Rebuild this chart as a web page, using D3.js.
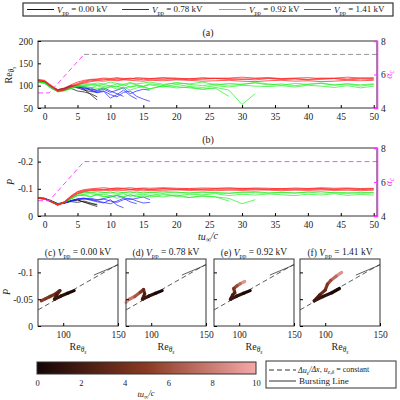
<!DOCTYPE html><html><head><meta charset="utf-8"><script src="https://cdn.jsdelivr.net/npm/d3@7"></script>
<style>body{margin:0;background:#fff}text{font-family:"Liberation Serif",serif;fill:#222}</style></head><body>
<svg id="c" width="400" height="400"></svg>
<script>
const T=[-1,0,1,2,3,4,5,6,7,8,9,10,11,12,13,14,15,16,18,20,22,24,26,28,30,32,34,36,38,40,42,44,46,48,50];
const groupNames=["0.00","0.78","0.92","1.41"];
const groupColors=["#111","#1f1fff","#22ee22","#ff1a1a"];
const reBlack=[[110,108,97,90,93,99,100,92,80,68],[109,106,95,89,90,94,88,86,82,75],[111,108,98,91,94,100,95,90,87,85]];
const reBlue=[[110,108,97,89,92,98,100,94,90,86,88,80,75,85,88,76,70,65],[109,107,96,88,91,96,97,92,95,88,92,85,90,95,82,88,92,90],[111,108,98,90,94,99,95,98,90,84,87,72,80,90,78,70],[110,107,97,90,93,97,99,96,92,90,95,88,82,76]];
const reGreen=[[108,106,95,86,88,93,98,100,101,102,98,100,97,103,96,100,98,102,97,103,98,96,100,97,101,99,98,100,97,101,99,96,100,95,99],
[109,107,96,88,90,95,100,102,104,101,103,99,104,100,105,102,99,104,101,107,103,100,104,101,103,106,102,104,100,103,105,101,104,102,104],
[108,105,94,87,89,94,99,97,95,100,94,98,92,97,90,95,98,93,100,98,95,92,96,90,58,82],
[109,106,95,87,90,96,101,99,96,94,92,97,99,94,98,100,96,93,99,95,97,92,94,76],
[110,107,96,88,91,97,102,105,103,106,104,108,105,103,107,104,106,108,103,106,104,108,102,105,103,107,104,101,105,103,106,102,104,99,103]];
const reRed=[[112,110,100,90,93,100,105,110,113,114,115,114,116,115,117,114,116,115,117,114,116,115,117,116,114,116,117,115,116,114,117,116,115,117,116],
[113,111,99,88,91,98,103,108,111,112,113,115,113,114,115,116,113,115,114,116,113,115,116,114,115,113,116,114,115,113,114,116,113,115,114],
[111,109,98,87,90,97,102,106,109,111,110,112,111,113,112,111,110,112,111,113,112,110,111,112,110,109,111,112,110,111,109,110,112,111,112],
[114,112,101,91,95,102,108,112,114,115,117,116,118,116,115,118,117,116,118,117,115,118,116,117,119,117,118,116,117,118,116,117,119,117,118]];
const pBlack=[[-.066,-.064,-.055,-.045,-.048,-.055,-.058,-.052,-.042,-.035],[-.065,-.063,-.054,-.044,-.047,-.053,-.05,-.055,-.048,-.04],[-.067,-.065,-.056,-.046,-.049,-.056,-.06,-.05,-.045,-.043]];
const pBlue=[[-.066,-.064,-.055,-.044,-.048,-.056,-.062,-.065,-.06,-.058,-.062,-.055,-.05,-.06,-.065,-.055,-.048,-.05],
[-.065,-.063,-.054,-.043,-.047,-.055,-.06,-.062,-.065,-.06,-.064,-.07,-.075,-.068,-.06,-.065,-.07,-.06],
[-.067,-.065,-.056,-.045,-.049,-.057,-.063,-.066,-.061,-.055,-.05,-.045,-.055,-.065,-.052,-.045],
[-.066,-.064,-.055,-.044,-.048,-.056,-.062,-.064,-.058,-.052,-.048,-.06,-.04,-.03]];
const pGreen=[[-.066,-.063,-.053,-.042,-.05,-.062,-.075,-.08,-.082,-.078,-.08,-.075,-.078,-.082,-.072,-.078,-.08,-.076,-.082,-.074,-.08,-.078,-.082,-.075,-.08,-.077,-.081,-.078,-.075,-.08,-.077,-.082,-.076,-.079,-.077],
[-.065,-.062,-.052,-.041,-.05,-.065,-.08,-.085,-.087,-.084,-.086,-.088,-.083,-.087,-.085,-.089,-.084,-.087,-.085,-.088,-.084,-.087,-.085,-.083,-.087,-.086,-.084,-.087,-.085,-.088,-.084,-.087,-.086,-.084,-.086],
[-.066,-.063,-.053,-.042,-.05,-.063,-.076,-.078,-.072,-.077,-.07,-.075,-.065,-.072,-.078,-.07,-.075,-.07,-.078,-.072,-.068,-.075,-.07,-.065,-.045,-.06],
[-.066,-.063,-.053,-.042,-.05,-.063,-.076,-.075,-.07,-.08,-.072,-.07,-.076,-.07,-.078,-.073,-.068,-.075,-.07,-.078,-.068,-.072,-.07,-.055],
[-.067,-.064,-.054,-.043,-.052,-.067,-.082,-.088,-.086,-.09,-.087,-.084,-.089,-.086,-.09,-.085,-.088,-.086,-.091,-.087,-.085,-.089,-.086,-.084,-.088,-.09,-.085,-.087,-.084,-.088,-.09,-.085,-.083,-.087,-.085]];
const pRed=[[-.066,-.063,-.052,-.04,-.05,-.07,-.085,-.092,-.095,-.097,-.096,-.098,-.097,-.1,-.098,-.097,-.099,-.097,-.1,-.098,-.097,-.099,-.098,-.1,-.097,-.099,-.098,-.097,-.1,-.098,-.099,-.097,-.1,-.098,-.099],
[-.067,-.064,-.053,-.041,-.052,-.072,-.088,-.094,-.097,-.099,-.098,-.1,-.102,-.1,-.098,-.101,-.1,-.098,-.101,-.099,-.1,-.098,-.101,-.099,-.102,-.1,-.099,-.101,-.098,-.1,-.101,-.099,-.1,-.098,-.1],
[-.065,-.062,-.051,-.039,-.048,-.068,-.082,-.089,-.093,-.094,-.095,-.093,-.095,-.094,-.096,-.094,-.095,-.093,-.095,-.096,-.094,-.095,-.093,-.095,-.094,-.096,-.095,-.093,-.095,-.094,-.096,-.094,-.095,-.093,-.095],
[-.068,-.065,-.054,-.042,-.053,-.074,-.09,-.097,-.1,-.102,-.104,-.101,-.103,-.102,-.104,-.101,-.103,-.102,-.104,-.102,-.101,-.103,-.102,-.104,-.101,-.103,-.102,-.1,-.103,-.101,-.104,-.102,-.103,-.101,-.102]];
const alphaT=[-1,0.7,6,50.5], alphaV=[4.9,4.9,7.2,7.2];
const trajRe=[[110,104,98,92,94,97,93,88,84,80],[110,104,98,92,94,93,90,85,80,77],[110,104,98,92,94,96,95,98,101,105],[113,106,98,90,95,100,102,105,110,115]];
const trajP=[[-.066,-.061,-.056,-.05,-.058,-.066,-.06,-.055,-.051,-.047],[-.066,-.061,-.056,-.05,-.06,-.068,-.063,-.055,-.05,-.044],[-.066,-.061,-.056,-.05,-.058,-.062,-.07,-.075,-.079,-.083],[-.07,-.062,-.055,-.047,-.058,-.067,-.078,-.085,-.093,-.1]];
const trajT=[[0,0.7,1.4,2,2.6,3.2,3.8,4.3,4.8,5.3],[0,0.7,1.4,2,2.8,4,5.5,7,8.5,10],[0,0.7,1.4,2,2.6,3.5,5,6.5,8,10],[0,0.7,1.4,2,2.8,4,5,6.5,8,10]];
const refRe=[77,150], refP=[-.03,-.115];
const burstRe=[128,150], burstP=[-.095,-.114];
const cbTicks=[0,2,4,6,8,10];

const svg=d3.select("#c");
const font="Liberation Serif";

const lg=svg.append("g");
lg.append("rect").attr("x",23).attr("y",3).attr("width",370).attr("height",13).attr("fill","#fff").attr("stroke","#333").attr("stroke-width",1.2);
const lx=[27,122,219,304];
groupNames.forEach((n,i)=>{lg.append("line").attr("x1",lx[i]).attr("x2",lx[i]+27).attr("y1",9.5).attr("y2",9.5).attr("stroke",groupColors[i]).attr("stroke-width",1);
 const t=lg.append("text").attr("x",lx[i]+30).attr("y",13).attr("font-size",9);t.append("tspan").attr("font-style","italic").text("V");t.append("tspan").attr("font-size","0.72em").attr("dy","0.3em").text("pp");t.append("tspan").attr("dy","-0.3em").text(" = "+n+" kV");});

const x=d3.scaleLinear().domain([-1,50.5]).range([38,377]);
const groupsRe=[reBlack,reBlue,reGreen,reRed], groupsP=[pBlack,pBlue,pGreen,pRed];
function styleAxis(a,col){a.attr("font-family",font);a.selectAll("text").attr("font-family",font).attr("font-size",9.5).attr("fill",col||"#222");}
function panel(top,bot,y,ydata,ticks,fmt,title,alphaGrayAfter){
 const g=svg.append("g");
 const ya=d3.scaleLinear().domain([4,8]).range([bot,top]);
 const line=d3.line().x((d,i)=>x(T[i])).y(d=>y(d));
 ydata.forEach((grp,gi)=>grp.forEach(s=>g.append("path").attr("d",line(s)).attr("fill","none").attr("stroke",groupColors[gi]).attr("stroke-width",0.7)));
 const al=d3.line().x((d,i)=>x(alphaT[i])).y(d=>ya(d));
 if(alphaGrayAfter){g.append("path").attr("d",al(alphaV.slice(0,3))).attr("fill","none").attr("stroke","#ff33ff").attr("stroke-dasharray","5,3").attr("stroke-width",0.9);
  g.append("path").attr("d",d3.line().x((d,i)=>x(alphaT[i+2])).y(d=>ya(d))(alphaV.slice(2))).attr("fill","none").attr("stroke","#888").attr("stroke-dasharray","5,3").attr("stroke-width",0.9);}
 else g.append("path").attr("d",al(alphaV)).attr("fill","none").attr("stroke","#ff33ff").attr("stroke-dasharray","5,3").attr("stroke-width",0.9);
 g.append("rect").attr("x",38).attr("y",top).attr("width",339).attr("height",bot-top).attr("fill","none").attr("stroke","#333");
 g.append("g").attr("transform",`translate(0,${bot})`).call(d3.axisBottom(x).tickValues(d3.range(0,51,5)).tickSize(-3).tickPadding(5)).call(a=>{a.select(".domain").remove();styleAxis(a);});
 g.append("g").attr("transform","translate(38,0)").call(d3.axisLeft(y).tickValues(ticks).tickFormat(fmt).tickSize(-3).tickPadding(5)).call(a=>{a.select(".domain").remove();styleAxis(a);});
 g.append("g").attr("transform","translate(377,0)").call(d3.axisRight(ya).tickValues([4,6,8]).tickFormat(d3.format("d")).tickSize(-3).tickPadding(4)).call(a=>{a.select(".domain").attr("stroke","#ff33ff").attr("stroke-width",1.5);a.selectAll("line").attr("stroke","#ff33ff");styleAxis(a,"#ff33ff");});
 svg.append("text").attr("x",208).attr("y",top-5).attr("text-anchor","middle").attr("font-size",10).text(title);
 const at=svg.append("text").attr("transform",`translate(392,${(top+bot)/2}) rotate(-90)`).attr("text-anchor","middle").attr("font-size",10).style("fill","#ff33ff");
 at.append("tspan").attr("font-style","italic").style("fill","#ff33ff").text("α");at.append("tspan").attr("font-size","0.72em").attr("dy","0.3em").attr("font-style","italic").style("fill","#ff33ff").text("c");
}
const yRe=d3.scaleLinear().domain([50,200]).range([108,41]);
panel(41,108,yRe,groupsRe,[50,100,150,200],d3.format("d"),"(a)",true);
const yP=d3.scaleLinear().domain([0,-0.25]).range([216,148]);
panel(148,216,yP,groupsP,[0,-0.1,-0.2],d=>d===0?"0":String(d),"(b)",false);
{const t=svg.append("text").attr("transform","translate(12,75) rotate(-90)").attr("text-anchor","middle").attr("font-size",10);
 t.append("tspan").text("Re");t.append("tspan").attr("font-size","0.72em").attr("dy","0.3em").attr("font-style","italic").text("θ");t.append("tspan").attr("font-size","0.55em").attr("dy","0.3em").attr("font-style","italic").text("s");}
svg.append("text").attr("transform","translate(14,182) rotate(-90)").attr("text-anchor","middle").attr("font-size",10).attr("font-style","italic").text("P");
{const t=svg.append("text").attr("x",208).attr("y",240).attr("text-anchor","middle").attr("font-size",10).attr("font-style","italic");
 t.append("tspan").text("tu");t.append("tspan").attr("font-size","0.72em").attr("dy","0.3em").text("∞");t.append("tspan").attr("dy","-0.3em").text("/c");}

const color=d3.scaleLinear().domain([0,5,10]).range(["#140505","#8a3a22","#f5a9a9"]);
const px=[38,126,214,300], pw=80, ptop=259, pbot=326;
const yb=d3.scaleLinear().domain([0,-0.125]).range([pbot,ptop]);
const letters=["(c)","(d)","(e)","(f)"];
px.forEach((x0,k)=>{
 const xb=d3.scaleLinear().domain([77,150]).range([x0,x0+pw]);
 const g=svg.append("g");
 const rl=d3.line().x(d=>xb(d[0])).y(d=>yb(d[1]));
 g.append("path").attr("d",rl([[refRe[0],refP[0]],[refRe[1],refP[1]]])).attr("stroke","#333").attr("stroke-dasharray","5,3").attr("stroke-width",0.8);
 g.append("path").attr("d",rl([[burstRe[0],burstP[0]],[burstRe[1],burstP[1]]])).attr("stroke","#333").attr("stroke-width",0.8);
 for(let i=trajRe[k].length-2;i>=0;i--){
  g.append("line").attr("x1",xb(trajRe[k][i])).attr("y1",yb(trajP[k][i])).attr("x2",xb(trajRe[k][i+1])).attr("y2",yb(trajP[k][i+1])).attr("stroke",color((trajT[k][i]+trajT[k][i+1])/2)).attr("stroke-width",3.2).attr("stroke-linecap","round");}
 g.append("rect").attr("x",x0).attr("y",ptop).attr("width",pw).attr("height",pbot-ptop).attr("fill","none").attr("stroke","#333");
 g.append("g").attr("transform",`translate(0,${pbot})`).call(d3.axisBottom(xb).tickValues([100,150]).tickSize(-3).tickPadding(5)).call(a=>{a.select(".domain").remove();styleAxis(a);});
 if(k===0) g.append("g").attr("transform",`translate(${x0},0)`).call(d3.axisLeft(yb).tickValues([0,-0.05,-0.1]).tickFormat(d=>d===0?"0":String(d)).tickSize(-3).tickPadding(5)).call(a=>{a.select(".domain").remove();styleAxis(a);});
 else g.append("g").attr("transform",`translate(${x0},0)`).call(d3.axisLeft(yb).tickValues([0,-0.05,-0.1]).tickFormat("").tickSize(-3)).call(a=>a.select(".domain").remove());
 const t=svg.append("text").attr("x",x0+pw/2).attr("y",256).attr("text-anchor","middle").attr("font-size",9.5);
 t.append("tspan").text(letters[k]+"  ");t.append("tspan").attr("font-style","italic").text("V");t.append("tspan").attr("font-size","0.72em").attr("dy","0.3em").text("pp");t.append("tspan").attr("dy","-0.3em").text(" = "+groupNames[k]+" kV");
 const r=svg.append("text").attr("x",x0+pw/2).attr("y",350).attr("text-anchor","middle").attr("font-size",10);
 r.append("tspan").text("Re");r.append("tspan").attr("font-size","0.72em").attr("dy","0.3em").attr("font-style","italic").text("θ");r.append("tspan").attr("font-size","0.55em").attr("dy","0.3em").attr("font-style","italic").text("s");
});
svg.append("text").attr("transform","translate(10,292) rotate(-90)").attr("text-anchor","middle").attr("font-size",10).attr("font-style","italic").text("P");

const cb=d3.scaleLinear().domain([0,10]).range([37,256]);
const grad=svg.append("defs").append("linearGradient").attr("id","gr");
[0,2.5,5,7.5,10].forEach(v=>grad.append("stop").attr("offset",(v*10)+"%").attr("stop-color",color(v)));
svg.append("rect").attr("x",37).attr("y",362).attr("width",219).attr("height",12).attr("fill","url(#gr)").attr("stroke","#333");
svg.append("g").attr("transform","translate(0,374)").call(d3.axisBottom(cb).tickValues(cbTicks).tickSize(0).tickPadding(6)).call(a=>{a.select(".domain").remove();styleAxis(a);a.selectAll("text").attr("font-size",8.5);});
{const t=svg.append("text").attr("x",146).attr("y",397).attr("text-anchor","middle").attr("font-size",8.5).attr("font-style","italic");
 t.append("tspan").text("tu");t.append("tspan").attr("font-size","0.72em").attr("dy","0.3em").text("∞");t.append("tspan").attr("dy","-0.3em").text("/c");}
svg.append("rect").attr("x",266).attr("y",361).attr("width",130).attr("height",27).attr("fill","#fff").attr("stroke","#333");
svg.append("line").attr("x1",269).attr("x2",296).attr("y1",370).attr("y2",370).attr("stroke","#333").attr("stroke-dasharray","5,3");
svg.append("line").attr("x1",269).attr("x2",296).attr("y1",381).attr("y2",381).attr("stroke","#333");
{const t=svg.append("text").attr("x",298).attr("y",373).attr("font-size",8);
 t.append("tspan").attr("font-style","italic").text("Δu");t.append("tspan").attr("font-size","0.7em").attr("dy","0.3em").attr("font-style","italic").text("e");t.append("tspan").attr("dy","-0.3em").attr("font-style","italic").text("/Δx");t.append("tspan").text(", ");
 t.append("tspan").attr("font-style","italic").text("u");t.append("tspan").attr("font-size","0.7em").attr("dy","0.3em").attr("font-style","italic").text("e,δ");t.append("tspan").attr("dy","-0.3em").text(" = constant");}
svg.append("text").attr("x",299).attr("y",384).attr("font-size",9).text("Bursting Line");
</script></body></html>
